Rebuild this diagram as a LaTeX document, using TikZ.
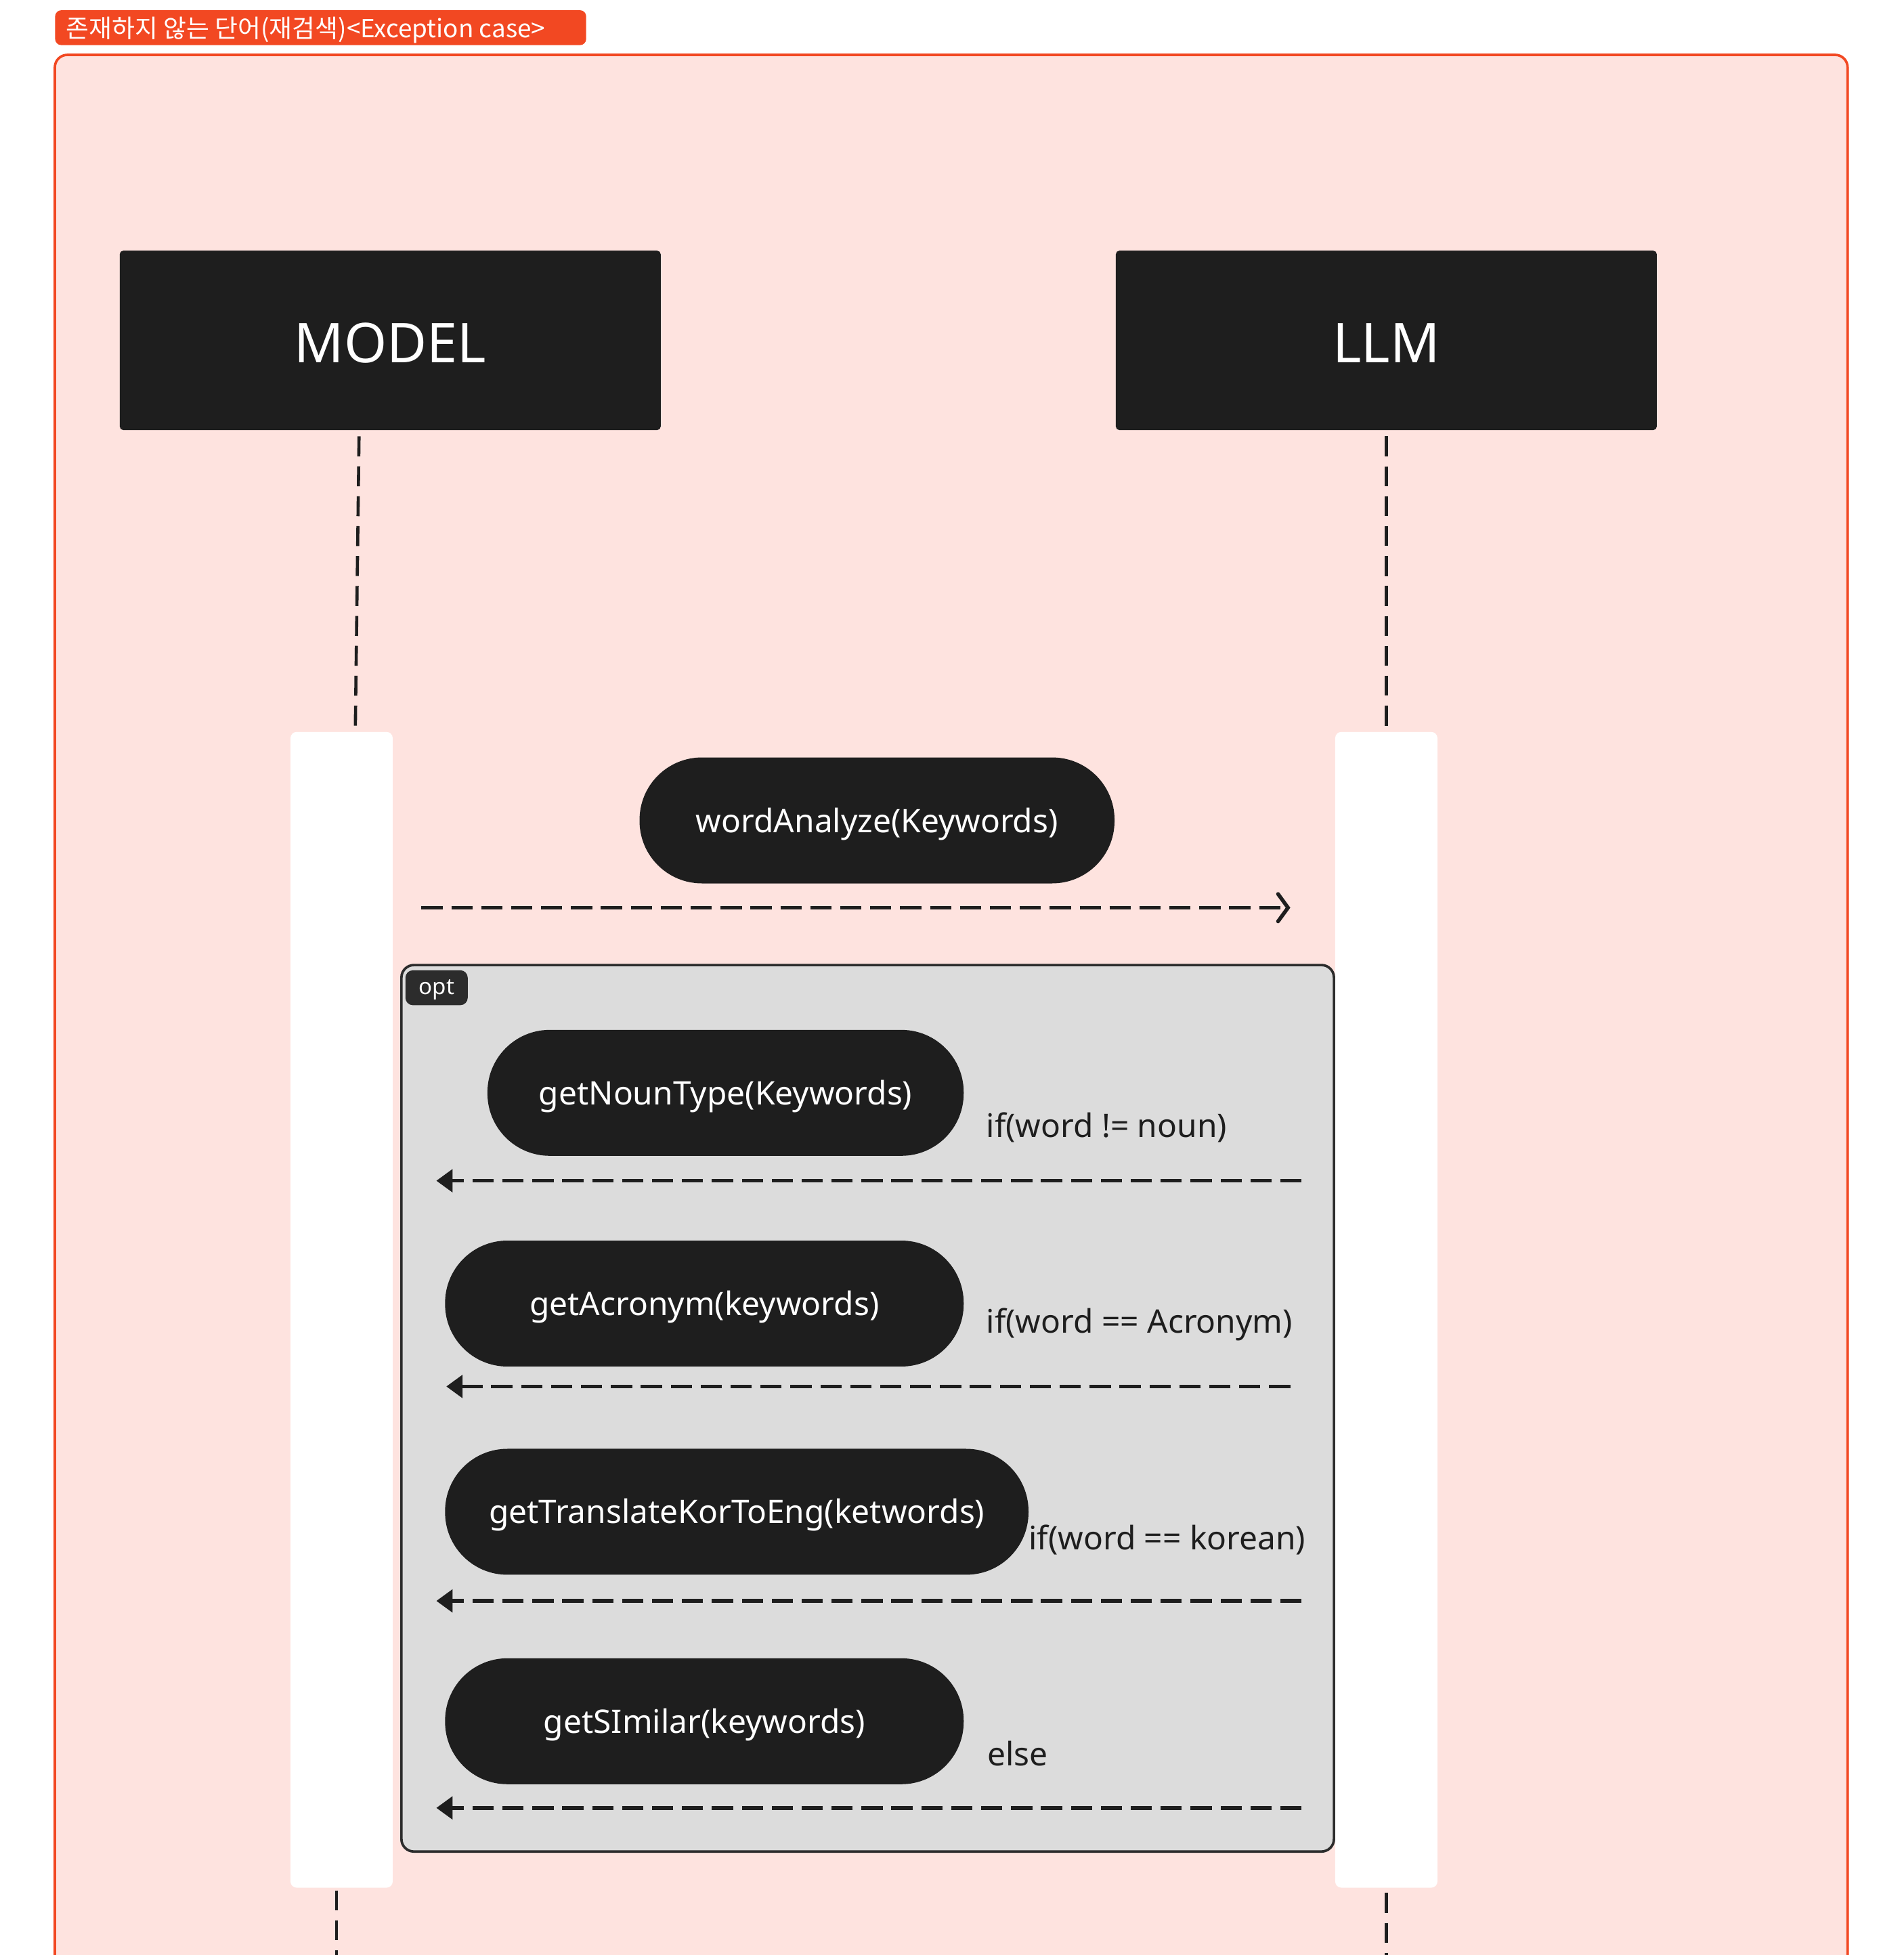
\documentclass[tikz,border=0pt]{standalone}
\usepackage{fontspec}
\setmainfont{Noto Sans}
\newfontfamily\krfont{Noto Sans CJK KR}
\usetikzlibrary{arrows.meta}
\definecolor{frameRed}{RGB}{242,72,34}
\definecolor{framePink}{RGB}{254,227,223}
\definecolor{boxDark}{RGB}{30,30,30}
\definecolor{optGray}{RGB}{220,220,220}
\definecolor{optEdge}{RGB}{44,44,44}
\begin{document}
\begin{tikzpicture}[x=1pt,y=-1pt,
  header/.style={fill=boxDark, rounded corners=3pt, minimum width=434pt, minimum height=144pt, text=white, font=\fontsize{44}{52}\selectfont, text height=36pt, text depth=0pt, inner sep=0pt},
  actbar/.style={fill=white, rounded corners=5pt, minimum width=82pt, minimum height=927pt, inner sep=0pt},
  pill/.style={fill=boxDark, rounded corners=50pt, minimum height=101pt, text=white, font=\fontsize{26}{31}\selectfont, text height=19pt, text depth=0pt, inner sep=0pt},
  cond/.style={anchor=base west, text=boxDark, font=\fontsize{26}{31}\selectfont, inner sep=0pt},
  lifeline/.style={draw=boxDark, line width=2.5pt, dash pattern=on 16pt off 8pt},
  reply/.style={draw=boxDark, line width=3pt, dash pattern=on 17pt off 7pt, -{Triangle[length=13pt,width=18pt]}},
  call/.style={draw=boxDark, line width=3pt, dash pattern=on 17pt off 7pt, -{Straight Barb[length=8pt,width=22pt,line cap=round]}}
]
\clip (0,0) rectangle (1527,1568);
\fill[white] (0,0) rectangle (1527,1568);
% frame
\draw[draw=frameRed, fill=framePink, line width=2pt, rounded corners=10pt] (44,44) rectangle (1482,1640);
\node[fill=frameRed, rounded corners=5pt, minimum width=426pt, minimum height=28pt, inner sep=0pt, anchor=north west] (tab) at (44,8) {};
\node[anchor=west, text=white, inner sep=0pt, text height=14pt, text depth=0pt, font=\krfont\fontsize{20}{24}\selectfont] (tabtext) at (53,23) {존재하지 않는 단어(재검색)<Exception case>};
% headers
\node[header] (model) at (313,273) {MODEL};
\node[header] (llm) at (1112,273) {LLM};
% activation bars
\node[actbar] (mbar) at (274,1050.5) {};
\node[actbar] (lbar) at (1112,1050.5) {};
% lifelines
\coordinate (mtop) at (288,350);
\coordinate (mmid) at (285,586);
\coordinate (ltop) at (1112,350);
\coordinate (lmid) at (1112,586);
\coordinate (mlow) at (270,1600);
\coordinate (llow) at (1112,1600);
\draw[lifeline] (mtop) -- (mmid);
\draw[lifeline] (ltop) -- (lmid);
\draw[lifeline] (mbar.south -| mlow) ++(0,2) -- (mlow);
\draw[lifeline] (lbar.south) ++(0,4) -- (llow);
% call
\node[pill, minimum width=381pt] (wa) at (703.5,658) {wordAnalyze(Keywords)};
\coordinate (c1s) at (338,728);
\coordinate (c1e) at (1035,728);
\draw[call] (c1s) -- (c1e);
% opt
\draw[fill=optGray, draw=optEdge, line width=2pt, rounded corners=10pt] (322,774) rectangle (1070,1485);
\node[fill=optEdge, rounded corners=6pt, minimum width=50pt, minimum height=28pt, inner sep=0pt, text=white, text height=11pt, text depth=0pt, font=\fontsize{18}{21}\selectfont, anchor=north west] (opt) at (325,778) {opt};
% messages
\node[pill, minimum width=382pt] (m1) at (582,876.5) {getNounType(Keywords)};
\node[cond] (k1) at (791,912) {if(word != noun)};
\coordinate (r1s) at (1044,947);
\coordinate (r1e) at (350,947);
\draw[reply] (r1s) -- (r1e);
\node[pill, minimum width=416pt] (m2) at (565,1045.5) {getAcronym(keywords)};
\node[cond] (k2) at (791,1069) {if(word == Acronym)};
\coordinate (r2s) at (1035,1112);
\coordinate (r2e) at (358,1112);
\draw[reply] (r2s) -- (r2e);
\node[pill, minimum width=468pt] (m3) at (591,1212.5) {getTranslateKorToEng(ketwords)};
\node[cond] (k3) at (825,1243) {if(word == korean)};
\coordinate (r3s) at (1044,1284);
\coordinate (r3e) at (350,1284);
\draw[reply] (r3s) -- (r3e);
\node[pill, minimum width=416pt] (m4) at (565,1380.5) {getSImilar(keywords)};
\node[cond] (k4) at (792,1416) {else};
\coordinate (r4s) at (1044,1450);
\coordinate (r4e) at (350,1450);
\draw[reply] (r4s) -- (r4e);
\end{tikzpicture}
\end{document}
